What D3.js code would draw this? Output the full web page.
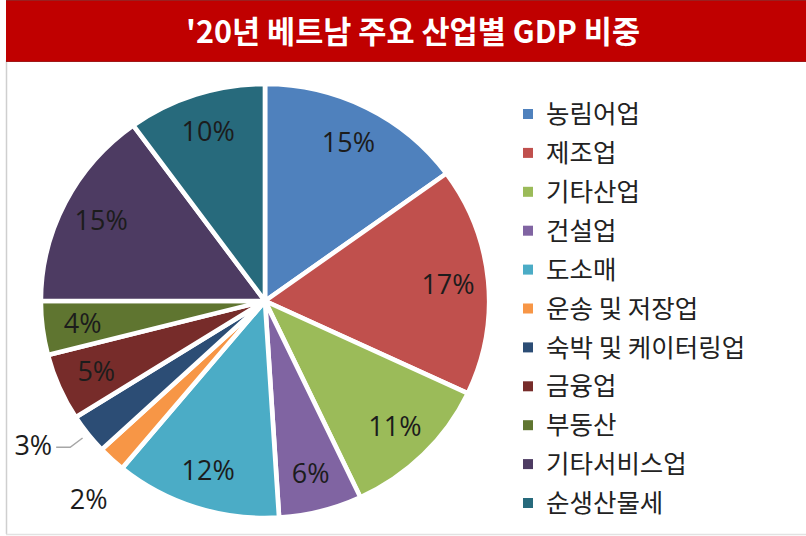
<!DOCTYPE html>
<html>
<head>
<meta charset="utf-8">
<script src="https://cdn.jsdelivr.net/npm/d3@7"></script>
<style>
  html, body { margin: 0; padding: 0; background: #fff; }
  svg { display: block; }
</style>
</head>
<body>
<svg id="chart" width="806" height="536"></svg>
<script>
// Vietnam 2020 GDP share by major industry (%)
const titleText = "'20년 베트남 주요 산업별 GDP 비중";
const categories = ["농림어업", "제조업", "기타산업", "건설업", "도소매", "운송 및 저장업",
                    "숙박 및 케이터링업", "금융업", "부동산", "기타서비스업", "순생산물세"];
const shares = [15, 17, 11, 6, 12, 2, 3, 5, 4, 15, 10];
const colors = ["#4F81BD", "#C0504D", "#9BBB59", "#8064A2", "#4BACC6", "#F79646",
                "#2C4D75", "#772C2A", "#5F7530", "#4D3B62", "#276A7C"];

const svg = d3.select("#chart");
const W = 806, H = 536;

// frame
svg.append("line").attr("x1", 6.5).attr("x2", 6.5).attr("y1", 60).attr("y2", 534)
  .attr("stroke", "#cfcfcf").attr("stroke-width", 1.5);
svg.append("line").attr("x1", 6).attr("x2", W).attr("y1", 534.5).attr("y2", 534.5)
  .attr("stroke", "#e2e2e2").attr("stroke-width", 1.5);

// title bar
svg.append("rect").attr("x", 6).attr("y", 0).attr("width", W - 6).attr("height", 62)
  .attr("fill", "#C00000");
svg.append("line").attr("x1", 6).attr("x2", W).attr("y1", 0.5).attr("y2", 0.5)
  .attr("stroke", "#9a2020").attr("stroke-width", 1);
svg.append("line").attr("x1", 6).attr("x2", W).attr("y1", 61.5).attr("y2", 61.5)
  .attr("stroke", "#a01818").attr("stroke-width", 1);
svg.append("text")
  .attr("x", 186).attr("y", 43)
  .attr("textLength", 454).attr("lengthAdjust", "spacingAndGlyphs")
  .attr("fill", "#fff")
  .style("font-family", "'Noto Sans CJK KR', sans-serif")
  .style("font-weight", 700)
  .style("font-size", "31px")
  .text(titleText);

// pie
const cx = 265, cy = 301, R = 217, sx = 1.033;
const pie = d3.pie().value(d => d).sort(null);
const arcs = pie(shares);
const arc = d3.arc().innerRadius(0).outerRadius(R);

const g = svg.append("g").attr("transform", `translate(${cx},${cy}) scale(${sx},1)`);
g.selectAll("path").data(arcs).join("path")
  .attr("d", arc)
  .attr("fill", (d, i) => colors[i])
  .attr("stroke", "#fff")
  .attr("stroke-width", 4.5)
  .attr("stroke-linejoin", "round");

// position at a given radius along a slice's mid angle, in page coordinates
function polar(d, r) {
  const a = (d.startAngle + d.endAngle) / 2;
  return [cx + Math.sin(a) * r * sx, cy - Math.cos(a) * r];
}

const labelFont = "'Open Sans', 'Noto Sans', sans-serif";
const labels = svg.append("g")
  .style("font-family", labelFont)
  .style("font-size", "27px")
  .attr("fill", "#1c1c1c");

arcs.forEach((d, i) => {
  const txt = shares[i] + "%";
  if (shares[i] >= 4) {
    const [x, y] = polar(d, R * 0.82);
    labels.append("text").attr("x", x).attr("y", y).attr("dy", "0.35em")
      .attr("text-anchor", "middle").text(txt);
  } else if (shares[i] === 2) {
    const [x, y] = polar(d, R * 1.24);
    labels.append("text").attr("x", x + 14).attr("y", y + 2).attr("dy", "0.35em")
      .attr("text-anchor", "middle").text(txt);
  } else {
    const p0 = polar(d, R * 1.03);
    const p1 = polar(d, R * 1.1);
    const p2 = [p1[0] - 14, p1[1]];
    svg.append("polyline")
      .attr("points", [p0, p1, p2].map(p => p.join(",")).join(" "))
      .attr("fill", "none").attr("stroke", "#a6a6a6").attr("stroke-width", 1.5);
    labels.append("text").attr("x", p2[0] - 4).attr("y", p2[1] - 2).attr("dy", "0.35em")
      .attr("text-anchor", "end").text(txt);
  }
});

// legend
const legend = svg.append("g").attr("transform", "translate(523,0)");
const rowY = d3.scalePoint().domain(categories).range([114, 503]);
const rows = legend.selectAll("g").data(categories).join("g")
  .attr("transform", d => `translate(0,${rowY(d)})`);
rows.append("rect").attr("x", 0).attr("y", -5).attr("width", 10).attr("height", 10)
  .attr("fill", (d, i) => colors[i]);
rows.append("text").attr("x", 23).attr("dy", "0.36em")
  .attr("fill", "#222")
  .style("font-family", "'Noto Sans CJK KR', sans-serif")
  .style("font-size", "25.5px")
  .text(d => d);
</script>
</body>
</html>
